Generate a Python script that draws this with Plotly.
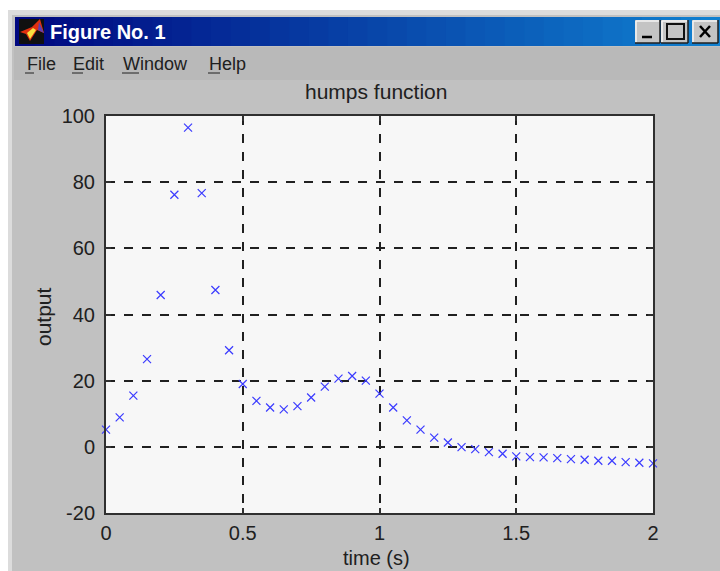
import plotly.graph_objects as go

time_s = [0, .05, .1, .15, .2, .25, .3, .35, .4, .45, .5, .55, .6, .65, .7, .75, .8, .85, .9, .95, 1,
          1.05, 1.1, 1.15, 1.2, 1.25, 1.3, 1.35, 1.4, 1.45, 1.5, 1.55, 1.6, 1.65, 1.7, 1.75, 1.8, 1.85, 1.9, 1.95, 2]
output = [5.2, 8.9, 15.5, 26.5, 45.9, 76.2, 96.5, 76.7, 47.4, 29.2, 19.0, 13.9, 11.9, 11.3, 12.3, 14.9, 18.2,
          20.6, 21.4, 20.0, 16.1, 11.9, 8.0, 5.2, 2.8, 1.3, -0.1, -0.7, -1.6, -2.1, -2.9, -3.1, -3.2, -3.4,
          -3.7, -3.9, -4.2, -4.2, -4.6, -4.8, -5.0]
x_ticks = [0, 0.5, 1, 1.5, 2]
x_tick_labels = ["0", "0.5", "1", "1.5", "2"]
y_ticks = [-20, 0, 20, 40, 60, 80, 100]
y_tick_labels = ["-20", "0", "20", "40", "60", "80", "100"]
title_text = "humps function"
x_label = "time (s)"
y_label = "output"
window_title = "Figure No. 1"
menus = [("File", 25), ("Edit", 71), ("Window", 121), ("Help", 207)]

W, H = 720, 571
L, R, T, B = 106, 653, 116, 513
FONT = "Liberation Sans"
INK = "#202020"
shapes = []


def px(x):
    return x / W


def py(y):
    return 1 - y / H


def rect(x0, y0, x1, y1, fill, line=None, lw=0, layer="below"):
    shapes.append(dict(type="rect", xref="paper", yref="paper", x0=px(x0), y0=py(y0), x1=px(x1), y1=py(y1),
                       fillcolor=fill, line=dict(color=line or fill, width=lw), layer=layer))


def seg(x0, y0, x1, y1, color, lw=1.5, layer="above"):
    shapes.append(dict(type="line", xref="paper", yref="paper", x0=px(x0), y0=py(y0), x1=px(x1), y1=py(y1),
                       line=dict(color=color, width=lw), layer=layer))


def poly(points, fill):
    d = "M" + " L".join("%.5f %.5f" % (px(a), py(b)) for a, b in points) + " Z"
    shapes.append(dict(type="path", xref="paper", yref="paper", path=d, fillcolor=fill,
                       line=dict(width=0), layer="below"))


def label(text, x, y, size, color=INK, xanchor="left", angle=0):
    return dict(text=text, x=px(x), y=py(y), xanchor=xanchor, yanchor="middle", xref="paper", yref="paper",
                showarrow=False, textangle=angle, font=dict(family=FONT, size=size, color=color))


# window frame
rect(0, 0, W, H, "#ffffff")
rect(8, 10, W, H, "#dcdcdc")
rect(12, 15, W, H, "#c1c1c1")
rect(14, 47, W, 80, "#b9b9b9")

# title bar gradient
n = 36
x0, x1 = 15, W
c0, c1 = (0, 8, 128), (16, 128, 208)
for i in range(n):
    t = i / (n - 1)
    c = tuple(round(a + (b - a) * t) for a, b in zip(c0, c1))
    rect(x0 + (x1 - x0) * i / n, 17, x0 + (x1 - x0) * (i + 1) / n + 1, 46, "rgb(%d,%d,%d)" % c)

# application icon
rect(19, 19, 44, 44, "#101010")
poly([(20, 32), (32, 27), (40, 19), (44, 33), (37, 30), (30, 41), (26, 34)], "#e03010")
poly([(27, 33), (33, 28), (36, 30), (30, 39)], "#f8e040")
poly([(39, 22), (44, 33), (38, 30)], "#6040b0")

# window buttons: raised look, light on the top and left, dark on the bottom and right
for bx0, bx1 in [(635, 660), (661, 688), (692, 718)]:
    rect(bx0, 20, bx1, 43, "#c4c4c4")
    seg(bx0 + 1, 21, bx1 - 1, 21, "#f4f4f4", 1.5, "below")
    seg(bx0 + 1, 21, bx0 + 1, 42, "#f4f4f4", 1.5, "below")
    seg(bx0, 43, bx1, 43, "#202020", 1.5, "below")
    seg(bx1, 20, bx1, 43, "#202020", 1.5, "below")
seg(642, 37, 652, 37, "#000000", 2.5)
rect(667, 24, 684, 39, "rgba(0,0,0,0)", "#101010", 2, "above")
seg(700, 26, 710, 37, "#000000", 2.5)
seg(710, 26, 700, 37, "#000000", 2.5)

# plot background sits above the window fill
rect(L, T, R, B, "#f7f7f7")

anns = [label("<b>%s</b>" % window_title, 48, 32, 20, "#ffffff")]
for text, mx in menus:
    anns.append(label(text, mx, 64, 18))
for u0, u1 in [(25, 34), (72, 83), (122, 139), (208, 220)]:
    seg(u0, 73, u1, 73, INK, 1)

anns.append(label(title_text, 376, 91, 21, xanchor="center"))
anns.append(label(x_label, 376, 558, 20, xanchor="center"))
anns.append(label(y_label, 43, 317, 21, xanchor="center", angle=-90))

trace = go.Scatter(x=time_s, y=output, mode="markers", cliponaxis=False,
                   marker=dict(symbol="x-thin", size=8, line=dict(color="#3a3aff", width=1.2)),
                   hoverinfo="skip", showlegend=False)

fig = go.Figure([trace])
axis_common = dict(showline=True, linecolor="#303030", linewidth=2, mirror="ticks", ticks="inside", ticklen=5,
                   tickcolor="#303030", tickwidth=1.5, showgrid=True, gridcolor="#202020", griddash="dash",
                   gridwidth=1.5, zeroline=False, tickfont=dict(family=FONT, size=20, color=INK),
                   fixedrange=True, automargin=False)
fig.update_layout(
    width=W, height=H, autosize=False, margin=dict(l=0, r=0, t=0, b=0, pad=0),
    paper_bgcolor="#c1c1c1", plot_bgcolor="rgba(0,0,0,0)", showlegend=False,
    shapes=shapes, annotations=anns,
    xaxis=dict(domain=[L / W, R / W], range=[0, 2], tickvals=x_ticks, ticktext=x_tick_labels,
               ticklabelstandoff=1, **axis_common),
    yaxis=dict(domain=[1 - B / H, 1 - T / H], range=[-20, 100], tickvals=y_ticks, ticktext=y_tick_labels,
               ticklabelstandoff=5, **axis_common),
)
fig.write_html("out.html", config=dict(displayModeBar=False),
               post_script="document.body.style.margin='0';document.body.style.overflow='hidden';")
